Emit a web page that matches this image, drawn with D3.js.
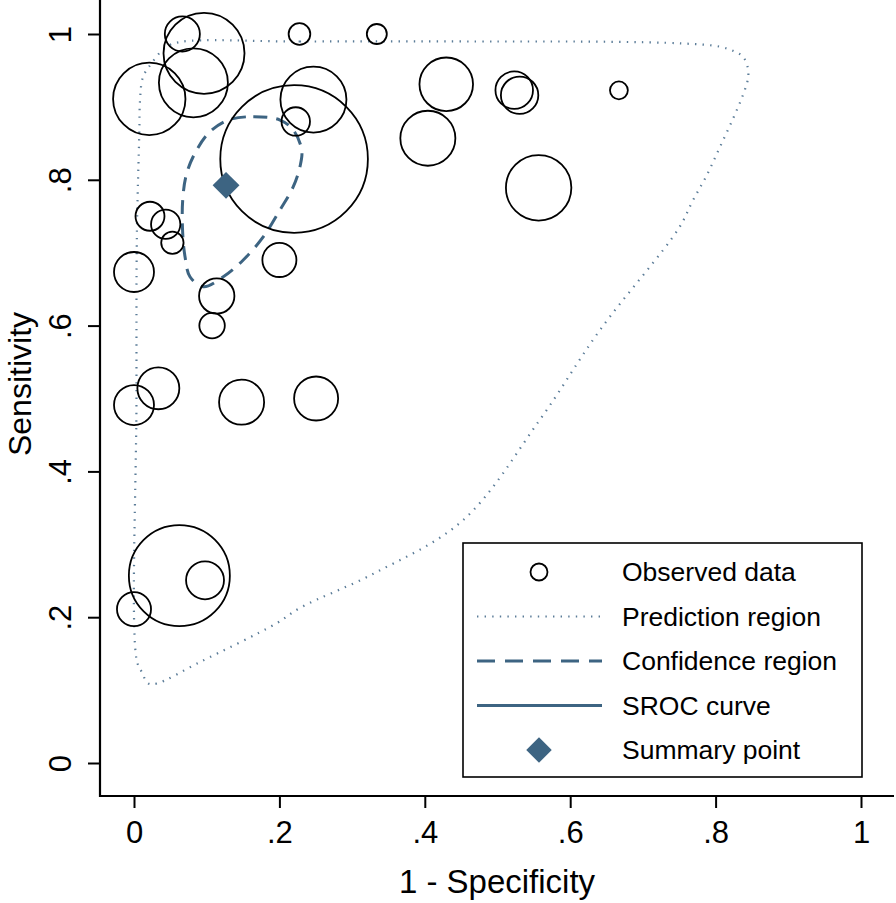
<!DOCTYPE html>
<html>
<head>
<meta charset="utf-8">
<script src="https://cdn.jsdelivr.net/npm/d3@7"></script>
<style>
  html, body { margin: 0; padding: 0; background: #fff; }
  svg { display: block; font-family: "Liberation Sans", Arial, Helvetica, sans-serif; }
</style>
</head>
<body>
<svg id="chart" width="896" height="903"></svg>
<script>
// ---- data ----
const studyFPR  = [0.0665, 0.0963, 0.0817, 0.021, 0.2276, 0.334, 0.2468, 0.2225, 0.2202, 0.022,
                   0.0436, 0.0528, 0.0, 0.2, 0.1138, 0.1074, 0.4295, 0.4042, 0.523, 0.5304,
                   0.667, 0.5566, 0.0, 0.0335, 0.148, 0.2505, 0.0624, 0.0977, 0.0];
const studySens = [1.0, 0.9735, 0.933, 0.911, 1.0, 1.0, 0.910, 0.880, 0.8285, 0.750,
                   0.739, 0.7137, 0.6735, 0.690, 0.6406, 0.600, 0.931, 0.857, 0.923, 0.916,
                   0.9227, 0.789, 0.491, 0.514, 0.495, 0.500, 0.257, 0.2506, 0.211];
const studyWeight = [12.3, 65.6, 47.6, 52.4, 4.7, 4.0, 43.6, 8.1, 217.9, 8.4,
                     8.6, 5.0, 16.0, 11.6, 12.5, 6.5, 28.7, 30.3, 14.1, 14.0,
                     3.2, 42.8, 16.0, 17.6, 20.3, 19.4, 102.0, 14.4, 11.6];

const summaryPoint = [0.1266, 0.7924];

const confFPR  = [0.1297, 0.1641, 0.2008, 0.2191, 0.2307, 0.2283, 0.2191, 0.2008, 0.178, 0.1503,
                  0.1228, 0.0953, 0.077, 0.0702, 0.067, 0.067, 0.0725, 0.0862, 0.1045];
const confSens = [0.882, 0.8866, 0.882, 0.8683, 0.8409, 0.818, 0.7905, 0.7586, 0.722, 0.690,
                  0.667, 0.6534, 0.667, 0.6945, 0.7266, 0.7723, 0.809, 0.8409, 0.866];

const predFPR  = [0.0633, 0.228, 0.503, 0.648, 0.755, 0.806, 0.8266, 0.8377, 0.844, 0.845,
                  0.843, 0.836, 0.824, 0.806, 0.788, 0.769, 0.749, 0.641, 0.558, 0.4525,
                  0.33, 0.228, 0.196, 0.0908, 0.0312, 0.0197, 0.0106, 0.0037, 0.0034, 0.004,
                  0.0073, 0.0083, 0.0124, 0.0243, 0.0426];
const predSens = [0.989, 0.9897, 0.9897, 0.9894, 0.987, 0.9826, 0.9757, 0.9688, 0.955, 0.9415,
                  0.932, 0.912, 0.884, 0.845, 0.8066, 0.772, 0.733, 0.594, 0.4705, 0.333,
                  0.26, 0.2126, 0.1916, 0.1385, 0.109, 0.109, 0.125, 0.141, 0.498, 0.727,
                  0.864, 0.909, 0.941, 0.96, 0.981];

const tickValues = [0, 0.2, 0.4, 0.6, 0.8, 1];
const tickLabels = ["0", ".2", ".4", ".6", ".8", "1"];
const legendLabels = ["Observed data", "Prediction region", "Confidence region", "SROC curve", "Summary point"];
const xTitle = "1 - Specificity";
const yTitle = "Sensitivity";

// ---- drawing ----
const svg = d3.select("#chart");
const blue = "#3d6482";
const dotBlue = "#5b7c98";

const x = d3.scaleLinear().domain([0, 1]).range([134, 861]);
const y = d3.scaleLinear().domain([0, 1]).range([763, 34]);
const r = d3.scaleSqrt().domain([0, d3.max(studyWeight)]).range([0, 73.8]);

const plotLeft = 100, plotBottom = 796, plotRight = 894, plotTop = 0;

// prediction region (dotted)
const predPts = predFPR.map((d, i) => [d, predSens[i]]);
svg.append("path")
  .attr("d", d3.line().x(d => x(d[0])).y(d => y(d[1])).curve(d3.curveCatmullRomClosed)(predPts))
  .attr("fill", "none").attr("stroke", dotBlue).attr("stroke-width", 2.2)
  .attr("stroke-dasharray", "1.4,6.2");

// confidence region (dashed)
const confPts = confFPR.map((d, i) => [d, confSens[i]]);
svg.append("path")
  .attr("d", d3.line().x(d => x(d[0])).y(d => y(d[1])).curve(d3.curveCatmullRomClosed)(confPts))
  .attr("fill", "none").attr("stroke", blue).attr("stroke-width", 3)
  .attr("stroke-dasharray", "14,9");

// observed data
svg.append("g").selectAll("circle")
  .data(studyFPR.map((d, i) => ({fpr: d, sens: studySens[i], w: studyWeight[i]})))
  .join("circle")
  .attr("cx", d => x(d.fpr)).attr("cy", d => y(d.sens)).attr("r", d => r(d.w))
  .attr("fill", "none").attr("stroke", "#000").attr("stroke-width", 1.8);

// summary point
const diamondSize = 19;
svg.append("rect")
  .attr("x", -diamondSize / 2).attr("y", -diamondSize / 2)
  .attr("width", diamondSize).attr("height", diamondSize)
  .attr("fill", blue)
  .attr("transform", `translate(${x(summaryPoint[0])},${y(summaryPoint[1])}) rotate(45)`);

// axes
const yAxis = d3.axisLeft(y).tickValues(tickValues).tickFormat((d, i) => tickLabels[i]).tickSize(12).tickSizeOuter(0);
const gy = svg.append("g").attr("transform", `translate(${plotLeft},0)`).call(yAxis);
gy.select(".domain").remove();
gy.selectAll(".tick line").attr("stroke", "#000").attr("stroke-width", 2);
gy.selectAll(".tick text")
  .attr("font-size", 31).attr("fill", "#000")
  .attr("x", 0).attr("dy", null)
  .attr("text-anchor", "middle")
  .attr("transform", "translate(-40,0) rotate(-90)")
  .attr("dominant-baseline", "central");

const xAxis = d3.axisBottom(x).tickValues(tickValues).tickFormat((d, i) => tickLabels[i]).tickSize(12).tickSizeOuter(0);
const gx = svg.append("g").attr("transform", `translate(0,${plotBottom})`).call(xAxis);
gx.select(".domain").remove();
gx.selectAll(".tick line").attr("stroke", "#000").attr("stroke-width", 2);
gx.selectAll(".tick text").attr("font-size", 31).attr("fill", "#000").attr("y", 47).attr("dy", null);

svg.append("line").attr("x1", plotLeft).attr("x2", plotLeft).attr("y1", plotTop).attr("y2", plotBottom + 1)
  .attr("stroke", "#000").attr("stroke-width", 2.2);
svg.append("line").attr("x1", plotLeft - 1).attr("x2", plotRight).attr("y1", plotBottom).attr("y2", plotBottom)
  .attr("stroke", "#000").attr("stroke-width", 2.2);

// titles
svg.append("text").attr("x", (plotLeft + plotRight) / 2).attr("y", 893)
  .attr("text-anchor", "middle").attr("font-size", 33).attr("fill", "#000").text(xTitle);
svg.append("text").attr("transform", `translate(31,${(plotTop + plotBottom) / 2 - 14}) rotate(-90)`)
  .attr("text-anchor", "middle").attr("font-size", 32).attr("fill", "#000").text(yTitle);

// legend
const lg = svg.append("g");
lg.append("rect").attr("x", 463).attr("y", 543).attr("width", 399).attr("height", 234)
  .attr("fill", "#fff").attr("stroke", "#000").attr("stroke-width", 1.6);
const rowY = d3.scalePoint().domain(legendLabels).range([572, 750]);
legendLabels.forEach((lab, i) => {
  const yy = rowY(lab);
  if (i === 0) {
    lg.append("circle").attr("cx", 539).attr("cy", yy).attr("r", 8.5)
      .attr("fill", "none").attr("stroke", "#000").attr("stroke-width", 1.8);
  } else if (i === 1) {
    lg.append("line").attr("x1", 477).attr("x2", 602).attr("y1", yy).attr("y2", yy)
      .attr("stroke", dotBlue).attr("stroke-width", 2.2).attr("stroke-dasharray", "1.4,6.2");
  } else if (i === 2) {
    lg.append("line").attr("x1", 477).attr("x2", 602).attr("y1", yy).attr("y2", yy)
      .attr("stroke", blue).attr("stroke-width", 3).attr("stroke-dasharray", "18,10");
  } else if (i === 3) {
    lg.append("line").attr("x1", 477).attr("x2", 602).attr("y1", yy).attr("y2", yy)
      .attr("stroke", blue).attr("stroke-width", 3);
  } else {
    lg.append("rect").attr("x", -9).attr("y", -9).attr("width", 18).attr("height", 18)
      .attr("fill", blue).attr("transform", `translate(539,${yy}) rotate(45)`);
  }
  lg.append("text").attr("x", 622).attr("y", yy).attr("dominant-baseline", "central")
    .attr("font-size", 26.5).attr("fill", "#000").text(lab);
});
</script>
</body>
</html>
